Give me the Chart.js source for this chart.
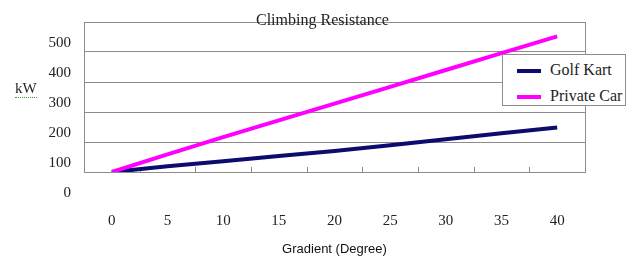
<!DOCTYPE html>
<html>
<head>
<meta charset="utf-8">
<script src="https://cdn.jsdelivr.net/npm/chart.js@4.4.1/dist/chart.umd.min.js"></script>
<style>
    body { margin: 0; background: #fff; }
    #wrap { position: relative; width: 628px; height: 257px; overflow: hidden; }
    #chart-title {
        position: absolute; left: 256px; top: 12px;
        font: 16px "Liberation Serif", "Times New Roman", serif; color: #222; line-height: 1;
    }
    #unit {
        position: absolute; left: 15px; top: 81px;
        font: 15px "Liberation Serif", "Times New Roman", serif; color: #222; line-height: 1;
        border-bottom: 1px dotted #3a9a3a; padding-bottom: 1px;
    }
    #legend {
        position: absolute; left: 502px; top: 54px; width: 124px; height: 52px;
        border: 1px solid #8c8c8c; background: #fff; box-sizing: border-box; overflow: hidden;
    }
    .legend-row { position: absolute; left: 14px; height: 18px; white-space: nowrap;
        font: 16px "Liberation Serif", "Times New Roman", serif; color: #222; line-height: 18px; }
    .legend-line { display: inline-block; width: 24px; height: 4px; vertical-align: middle; margin-right: 9px; }
</style>
</head>
<body>
<div id="wrap">
    <canvas id="chart" width="628" height="257"></canvas>
    <div id="chart-title">Climbing Resistance</div>
    <div id="unit">kW</div>
    <div id="legend"></div>
</div>
<script>
// --- Data ---
const gradients = ['0', '5', '10', '15', '20', '25', '30', '35', '40'];
const golfKart = [0, 19, 36, 53, 70, 89, 109, 129, 148];
const privateCar = [0, 59, 116, 172, 228, 284, 340, 396, 452];
const seriesNames = ['Golf Kart', 'Private Car'];
const seriesColors = ['#0c0c6e', '#ff00ff'];
const yTicks = [0, 100, 200, 300, 400, 500];

const gridGray = '#8c8c8c';

// plot frame + small inward tick marks between categories
const framePlugin = {
    id: 'frame',
    beforeDatasetsDraw(chart) {
        const { ctx, chartArea, scales } = chart;
        const x = scales.x;
        ctx.save();
        ctx.strokeStyle = gridGray;
        ctx.lineWidth = 1;
        ctx.strokeRect(chartArea.left + 0.5, chartArea.top + 0.5,
            chartArea.right - chartArea.left, chartArea.bottom - chartArea.top);
        for (let i = 1; i < gradients.length; i++) {
            const px = Math.round((x.getPixelForTick(i - 1) + x.getPixelForTick(i)) / 2) + 0.5;
            ctx.beginPath();
            ctx.moveTo(px, chartArea.bottom);
            ctx.lineTo(px, chartArea.bottom - 5);
            ctx.stroke();
        }
        ctx.restore();
    }
};

const ctx = document.getElementById('chart').getContext('2d');
const chart = new Chart(ctx, {
    type: 'line',
    data: {
        labels: gradients,
        datasets: [
            {
                label: seriesNames[0],
                data: golfKart,
                borderColor: seriesColors[0],
                borderWidth: 4,
                pointRadius: 0,
                tension: 0,
                order: 1
            },
            {
                label: seriesNames[1],
                data: privateCar,
                borderColor: seriesColors[1],
                borderWidth: 4,
                pointRadius: 0,
                tension: 0,
                order: 0
            }
        ]
    },
    options: {
        responsive: false,
        animation: false,
        layout: { padding: { top: 17, right: 43, left: 0, bottom: 0 } },
        plugins: {
            legend: { display: false },
            tooltip: { enabled: false }
        },
        scales: {
            x: {
                offset: true,
                grid: { display: false, drawTicks: false },
                border: { display: true, color: gridGray },
                ticks: {
                    padding: 40,
                    color: '#222',
                    font: { family: '"Liberation Serif", "Times New Roman", serif', size: 15 }
                },
                title: {
                    display: true,
                    text: 'Gradient (Degree)',
                    color: '#111',
                    padding: { top: 0, bottom: 0 },
                    font: { family: '"Liberation Sans", Arial, sans-serif', size: 13 }
                },
                afterFit(scale) { scale.height = 85; }
            },
            y: {
                min: 0,
                max: 500,
                afterBuildTicks(scale) { scale.ticks = yTicks.map(v => ({ value: v })); },
                grid: { color: gridGray, drawTicks: false },
                border: { display: true, color: gridGray },
                ticks: {
                    padding: 13,
                    labelOffset: 21,
                    color: '#222',
                    font: { family: '"Liberation Serif", "Times New Roman", serif', size: 15 }
                },
                afterFit(scale) { scale.width = 84; }
            }
        }
    },
    plugins: [framePlugin]
});

// legend box built from the series
const legend = document.getElementById('legend');
seriesNames.forEach((name, i) => {
    const row = document.createElement('div');
    row.className = 'legend-row';
    row.style.top = (6 + i * 26) + 'px';
    row.innerHTML = `<span class="legend-line" style="background:${seriesColors[i]}"></span>${name}`;
    legend.appendChild(row);
});
</script>
</body>
</html>
